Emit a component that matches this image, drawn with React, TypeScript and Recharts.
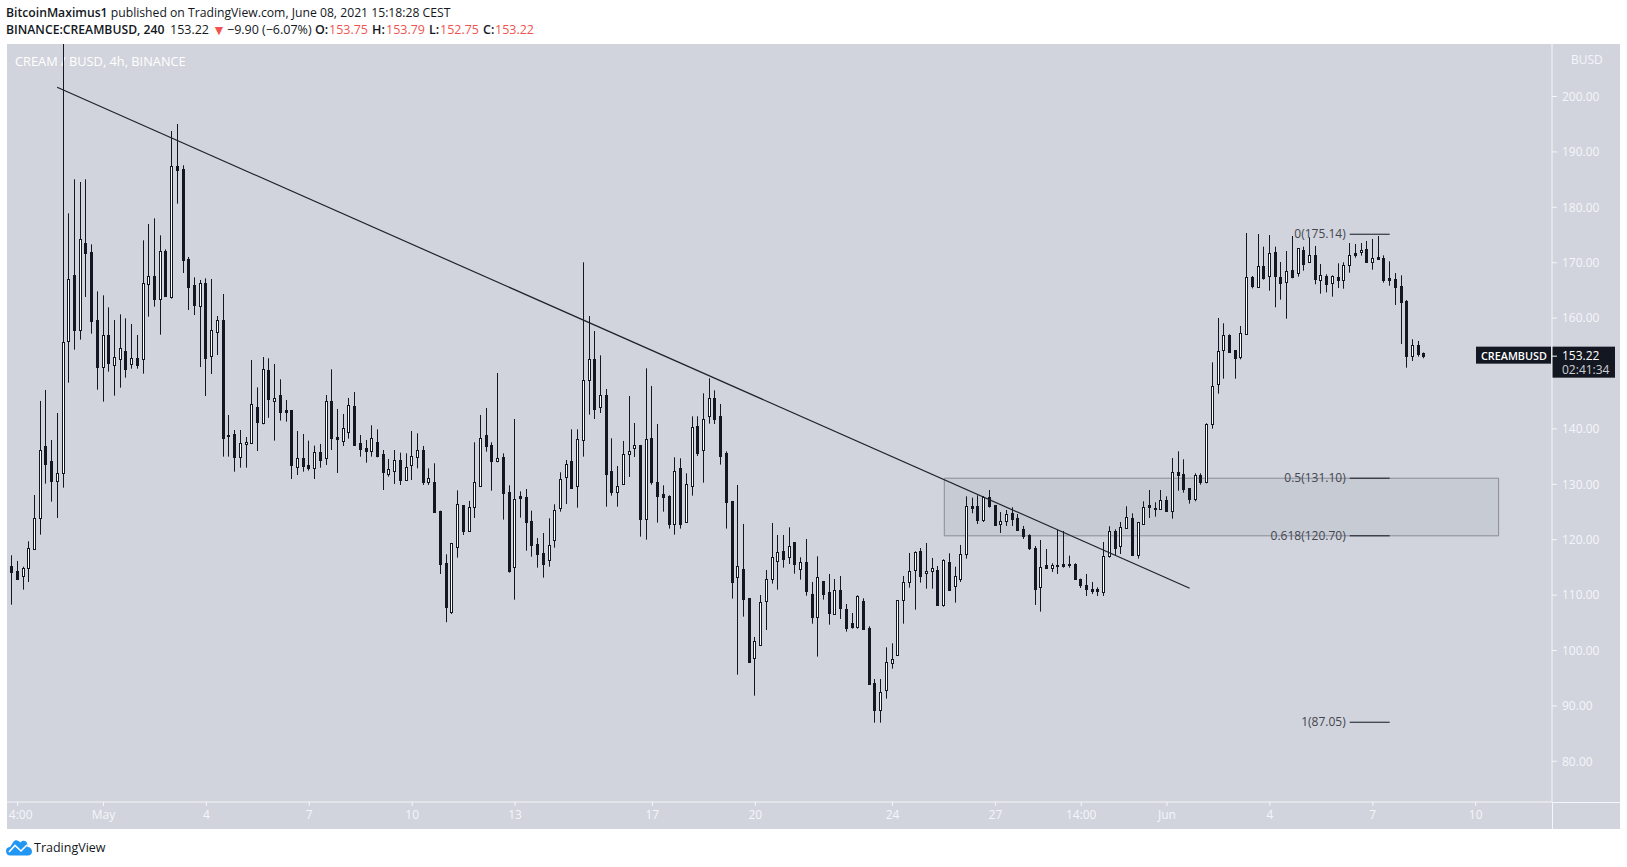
import { Bar, ComposedChart, ReferenceArea, ReferenceLine, XAxis, YAxis } from "recharts";

// candles, 4h, first one is cut off by the left edge of the pane
const OPENS = [
  115.7,
  115.25, 114.29, 113.51, 114.83, 118.38, 123.98, 136.92, 134.15, 130.66, 131.98,
  155.81, 167.78, 157.91, 173.56, 171.93, 159.66, 151.23, 156.95, 151.6, 152.68,
  154.0, 151.66, 152.8, 152.56, 166.22, 167.6, 163.51, 172.11, 163.87, 187.4,
  186.85, 170.67, 165.98, 162.25, 166.34, 153.22, 157.55, 159.66, 138.9, 139.02,
  134.99, 137.22, 137.52, 143.9, 141.13, 150.63, 145.1, 146.12, 143.35, 143.41,
  133.19, 134.75, 133.49, 133.0, 135.83, 134.81, 144.98, 138.48, 137.88, 139.5,
  144.14, 137.4, 136.49, 136.07, 137.58, 135.41, 131.92, 132.46, 134.33, 130.84,
  133.55, 134.99, 136.13, 130.48, 130.42, 125.18, 115.74, 107.01, 118.74, 126.21,
  121.63, 125.85, 129.63, 138.9, 137.1, 134.27, 134.87, 128.61, 115.01, 127.83,
  127.65, 123.38, 119.23, 117.6, 116.28, 119.89, 125.66, 131.26, 134.15, 129.63,
  137.94, 148.77, 152.56, 143.9, 146.06, 132.34, 128.55, 130.0, 135.41, 136.49,
  137.04, 123.8, 138.3, 130.36, 128.19, 127.83, 122.9, 132.88, 123.14, 129.75,
  140.46, 136.13, 142.27, 145.52, 142.27, 135.59, 126.93, 113.21, 114.65, 109.42,
  98.59, 101.06, 108.88, 112.85, 116.1, 117.9, 116.82, 119.53, 114.77, 115.92,
  110.14, 106.11, 112.55, 110.5, 106.65, 110.86, 107.43, 104.9, 104.3, 108.93,
  104.06, 94.07, 89.32, 92.93, 97.81, 99.25, 109.06, 112.31, 114.47, 117.9,
  113.93, 114.29, 114.53, 108.22, 115.98, 111.71, 112.97, 117.48, 126.09, 126.03,
  123.56, 127.65, 126.27, 122.9, 123.44, 124.82, 123.92, 121.87, 120.85, 118.44,
  111.4, 115.38, 114.95, 115.44, 115.56, 115.56, 115.62, 112.85, 111.77, 111.04,
  111.1, 110.62, 117.12, 121.51, 118.8, 122.12, 123.92, 117.24, 122.84, 126.21,
  125.79, 125.6, 127.17, 125.12, 132.16, 131.8, 129.27, 127.29, 131.62, 130.48,
  140.95, 148.05, 154.18, 156.95, 154.24, 152.92, 157.07, 167.36, 165.68, 169.41,
  167.54, 171.87, 167.36, 166.46, 168.62, 168.08, 172.29, 170.07, 171.33, 166.82,
  167.54, 166.28, 167.48, 166.82, 169.53, 171.69, 171.87, 172.41, 170.19, 171.09,
  170.85, 167.18, 167.0, 165.74, 163.15, 153.22, 155.09, 153.75,
];
const HIGHS = [
  120.7,
  117.18, 116.16, 115.13, 119.71, 128.07, 145.04, 147.03, 137.99, 142.87, 215,
  178.91, 185.05, 184.57, 185.05, 173.32, 164.83, 164.11, 161.94, 159.66, 160.68,
  159.96, 158.94, 156.95, 174.04, 176.99, 178.01, 174.94, 172.41, 193.77, 195.04,
  187.58, 171.03, 167.36, 166.88, 167.18, 167.06, 160.38, 164.35, 142.51, 139.8,
  139.8, 138.54, 152.44, 147.5, 152.98, 152.74, 151.72, 148.95, 145.22, 143.41,
  139.62, 139.08, 137.88, 136.98, 137.28, 146.12, 150.75, 143.6, 142.69, 145.58,
  146.66, 138.9, 137.99, 140.65, 139.92, 136.19, 134.57, 136.19, 135.71, 135.59,
  139.62, 139.2, 136.92, 132.88, 133.79, 125.24, 117.36, 119.41, 128.91, 126.21,
  127.0, 137.58, 142.51, 143.77, 137.58, 150.09, 135.59, 129.82, 141.79, 128.73,
  129.15, 125.24, 120.31, 121.21, 123.86, 126.39, 132.16, 134.39, 139.92, 139.92,
  170.07, 160.38, 157.67, 153.28, 147.2, 138.3, 133.3, 137.82, 145.94, 141.07,
  137.1, 150.93, 147.75, 140.89, 129.81, 128.01, 134.87, 134.69, 131.98, 142.27,
  142.27, 146.42, 149.13, 146.96, 144.5, 135.95, 126.99, 129.88, 122.84, 109.48,
  102.44, 110.02, 114.53, 123.02, 120.85, 120.85, 122.23, 119.53, 116.82, 120.13,
  112.37, 117.0, 112.55, 113.81, 112.91, 113.45, 108.39, 106.77, 109.96, 109.42,
  104.36, 94.85, 94.85, 100.57, 101.29, 109.06, 113.45, 117.6, 117.9, 118.5,
  119.41, 116.7, 115.25, 116.46, 117.54, 115.13, 119.05, 127.83, 127.59, 128.01,
  127.89, 128.97, 126.27, 125.0, 125.36, 125.85, 124.64, 122.48, 120.97, 118.86,
  119.95, 118.32, 115.74, 121.75, 121.57, 117.12, 115.74, 112.97, 113.81, 112.37,
  111.4, 119.59, 122.42, 121.87, 123.2, 126.03, 124.76, 123.2, 126.93, 128.97,
  126.75, 128.97, 127.83, 134.75, 135.95, 134.51, 129.27, 131.98, 131.98, 141.01,
  152.02, 160.02, 159.06, 157.07, 154.24, 158.58, 175.36, 167.6, 175.18, 172.9,
  175.0, 172.9, 170.13, 172.11, 174.82, 172.6, 172.9, 174.58, 173.02, 169.77,
  167.9, 167.72, 169.89, 170.07, 173.56, 173.38, 173.56, 173.92, 174.28, 174.82,
  171.33, 170.25, 168.14, 167.72, 163.27, 156.17, 155.87, 153.79,
];
const LOWS = [
  115.7,
  108.27, 112.97, 110.98, 112.37, 118.2, 120.91, 130.12, 126.87, 123.92, 129.39,
  148.35, 154.3, 156.11, 163.81, 157.19, 147.08, 144.92, 150.33, 146.0, 147.44,
  149.25, 150.87, 150.87, 149.97, 160.26, 162.07, 157.01, 163.87, 163.51, 180.66,
  168.14, 161.46, 160.56, 151.17, 145.94, 149.91, 153.34, 134.99, 134.99, 132.28,
  133.0, 133.0, 137.28, 136.01, 140.83, 142.0, 137.88, 141.5, 141.31, 130.96,
  131.68, 132.28, 132.46, 130.96, 133.0, 133.49, 136.19, 132.04, 136.92, 138.24,
  136.92, 134.99, 133.91, 134.99, 134.87, 128.97, 131.38, 130.06, 129.88, 130.78,
  130.78, 132.88, 129.88, 129.88, 124.88, 113.81, 105.1, 106.59, 116.76, 120.85,
  121.45, 123.92, 129.57, 135.89, 128.85, 133.97, 123.62, 114.05, 109.18, 123.98,
  118.02, 116.94, 114.95, 113.15, 115.13, 118.56, 125.06, 126.45, 129.39, 125.78,
  134.99, 142.57, 141.79, 142.87, 125.96, 127.95, 125.96, 129.87, 131.32, 134.93,
  120.55, 120.01, 129.94, 123.08, 125.06, 122.0, 120.91, 122.0, 123.08, 127.95,
  135.11, 130.3, 140.95, 140.89, 133.55, 122.0, 109.36, 95.64, 106.11, 97.98,
  91.85, 101.06, 103.7, 112.07, 110.98, 114.95, 115.61, 113.87, 112.79, 109.9,
  104.84, 98.89, 109.18, 104.66, 106.47, 105.69, 103.4, 103.94, 103.94, 103.94,
  94.01, 86.97, 86.97, 91.31, 96.72, 99.25, 104.84, 111.34, 107.37, 112.25,
  111.16, 111.16, 108.09, 107.91, 110.92, 108.64, 112.37, 116.58, 124.76, 122.84,
  123.2, 125.79, 122.48, 121.21, 122.48, 122.48, 121.57, 120.13, 118.14, 108.22,
  107.01, 114.95, 114.17, 113.81, 114.95, 114.95, 112.73, 111.28, 109.84, 110.2,
  109.84, 109.84, 116.76, 117.24, 117.42, 122.0, 117.06, 116.58, 122.72, 123.92,
  124.16, 125.6, 125.06, 123.8, 128.85, 128.49, 126.51, 126.93, 129.94, 130.18,
  140.04, 146.36, 149.07, 153.76, 149.07, 152.56, 157.07, 165.37, 165.56, 166.94,
  164.95, 161.95, 163.33, 159.9, 167.18, 167.48, 168.56, 170.07, 166.1, 164.41,
  164.65, 163.87, 165.43, 165.31, 168.2, 170.91, 171.27, 169.95, 168.74, 170.61,
  166.4, 165.86, 162.37, 155.33, 151.05, 152.26, 153.04, 152.75,
];
const CLOSES = [
  120.7,
  114.23, 112.97, 114.83, 118.44, 123.86, 136.13, 133.73, 130.6, 131.98, 155.63,
  167.0, 157.91, 174.22, 171.81, 159.54, 151.23, 156.89, 151.96, 152.92, 154.54,
  150.87, 152.74, 151.54, 166.28, 167.54, 163.51, 172.05, 164.05, 187.4, 186.73,
  170.49, 165.61, 162.37, 166.28, 152.86, 157.79, 159.6, 138.42, 138.8, 134.99,
  137.4, 137.58, 144.44, 141.31, 150.75, 145.46, 145.52, 143.11, 143.11, 133.49,
  134.69, 133.37, 133.0, 135.77, 134.45, 144.98, 138.42, 138.24, 140.1, 144.26,
  137.1, 136.43, 136.07, 138.3, 135.11, 132.22, 132.7, 134.33, 130.78, 133.06,
  135.05, 136.13, 130.42, 131.08, 125.06, 115.68, 107.8, 119.35, 126.39, 121.63,
  125.85, 130.36, 138.3, 136.98, 134.27, 134.69, 128.49, 114.35, 127.29, 127.59,
  123.26, 119.05, 117.42, 115.68, 118.98, 125.3, 130.9, 133.61, 129.39, 138.12,
  148.77, 152.56, 143.65, 146.06, 131.92, 128.67, 129.63, 135.41, 135.95, 137.04,
  123.8, 138.12, 130.48, 127.95, 127.77, 122.9, 132.34, 122.9, 129.99, 140.28,
  135.71, 141.73, 145.52, 141.73, 135.17, 126.87, 112.43, 115.31, 109.36, 97.98,
  101.66, 108.69, 112.85, 116.94, 117.84, 116.58, 118.8, 115.67, 115.92, 110.8,
  106.11, 113.21, 110.26, 106.83, 110.86, 107.67, 104.12, 104.3, 109.78, 103.94,
  94.01, 89.32, 92.45, 97.87, 98.53, 109.06, 112.31, 114.41, 117.84, 113.51,
  114.41, 114.83, 108.21, 116.34, 110.92, 113.39, 117.36, 126.03, 125.73, 123.56,
  127.71, 126.09, 122.6, 123.32, 124.58, 123.74, 121.75, 120.73, 118.44, 111.1,
  115.01, 114.95, 115.38, 115.38, 115.26, 115.5, 112.91, 111.83, 111.1, 110.74,
  110.74, 117.0, 121.51, 118.56, 122.24, 124.04, 117.24, 123.14, 125.85, 125.85,
  125.73, 127.11, 125.18, 132.16, 131.74, 129.15, 127.35, 131.74, 130.48, 140.89,
  147.69, 154.0, 156.89, 153.82, 152.86, 157.25, 167.36, 165.8, 169.35, 167.3,
  171.69, 167.66, 166.4, 168.44, 167.48, 172.6, 169.83, 171.33, 167.0, 167.78,
  166.1, 167.54, 166.88, 169.53, 171.45, 171.45, 172.35, 170.19, 170.91, 170.73,
  166.88, 166.94, 165.68, 162.97, 153.22, 155.09, 153.58, 153.22,
];

const TIME_TICKS = [2, 17, 35, 53, 71, 89, 113, 131, 155, 173, 188, 203, 221, 239, 257];
const TIME_LABELS = ["4:00", "May", "4", "7", "10", "13", "17", "20", "24", "27", "14:00", "Jun", "4", "7", "10"];
// 150 sits behind the last price tag in the original
const PRICE_TICKS = [80, 90, 100, 110, 120, 130, 140, 160, 170, 180, 190, 200];
const X_DOMAIN = [0.136, 270.34];
const Y_DOMAIN = [72.65, 209.48];

const TREND_LINE = [
  { x: 8.9, y: 201.66 },
  { x: 206.97, y: 111.23 },
];
const FIB_LEVELS = [
  { level: "0", price: 175.14 },
  { level: "0.5", price: 131.1 },
  { level: "0.618", price: 120.7 },
  { level: "1", price: 87.05 },
];
const FIB_X = [234.96, 241.96];
const ZONE_X = [164.06, 261];
const ZONE_Y = [120.7, 131.1];
const LAST_PRICE = 153.22;
const COUNTDOWN = "02:41:34";

const data = OPENS.map((open, i) => ({
  index: i,
  open,
  high: HIGHS[i],
  low: LOWS[i],
  close: CLOSES[i],
}));

const INK = "#131722";
const PANE = "#d1d4dc";
const AXIS = "#f4f6fb";
const FONT = "'Open Sans', 'Liberation Sans', sans-serif";

function Candle(props: any) {
  const { x, y, width, height, payload } = props;
  const center = Math.floor(x + width / 2);
  const top = Math.min(y, y + height);
  const pxPerUnit = Math.abs(height) / (payload.high - payload.low);
  const toY = (p: number) => top + (payload.high - p) * pxPerUnit;
  const bodyTop = Math.round(toY(Math.max(payload.open, payload.close))) + 0.5;
  const bodyBottom = Math.round(toY(Math.min(payload.open, payload.close))) + 0.5;
  const up = payload.close >= payload.open;
  return (
    <g>
      <line x1={center + 0.5} x2={center + 0.5} y1={top} y2={top + Math.abs(height)} stroke={INK} />
      <rect
        x={center - 0.5}
        y={bodyTop}
        width={2}
        height={Math.max(bodyBottom - bodyTop, 1)}
        fill={up ? "#ffffff" : INK}
        stroke={INK}
      />
    </g>
  );
}

function TimeTick(props: any) {
  const { x, y, payload, index } = props;
  // the first label is pushed right so it stays inside the pane
  return (
    <text x={x + (index === 0 ? 3 : 0)} y={y + 9} textAnchor="middle" fill={AXIS} fontSize={12} fontFamily={FONT}>
      {TIME_LABELS[TIME_TICKS.indexOf(payload.value)]}
    </text>
  );
}

function PriceTag(props: any) {
  const y = props.viewBox.y;
  return (
    <g fontFamily={FONT} fill="#ffffff">
      <rect x={1476} y={y - 9} width={75} height={17} fill={INK} />
      <rect x={1552} y={y - 9} width={63} height={31} fill={INK} />
      <line x1={1552} x2={1557} y1={y + 0.5} y2={y + 0.5} stroke={AXIS} />
      <text x={1481} y={y + 4} fontSize={10.8} fontWeight={600}>CREAMBUSD</text>
      <text x={1562} y={y + 4} fontSize={12}>{LAST_PRICE.toFixed(2)}</text>
      <text x={1562} y={y + 18} fontSize={12} fillOpacity={0.8}>{COUNTDOWN}</text>
    </g>
  );
}

function TvLogo() {
  return (
    <svg width={28} height={17} viewBox="0 0 28 17" style={{ position: "absolute", left: 5, top: 839 }}>
      <path
        d="M1 12 C1 9 3 8 5 8 L9 2 C10 1 12 1 13.5 2 L15.5 3.5 C17 1 21 1 22 4 C22.5 6 22 7 22.5 8 C25 8 27 10 27 12.5 C27 15 25 16.5 23 16.5 L5 16.5 C3 16.5 1 15 1 12 Z"
        fill="#2196f3"
      />
      <path d="M4 13 L10 6.5 L16 12 L22 6" fill="none" stroke="#ffffff" strokeWidth={1.6} />
    </svg>
  );
}

export default function App() {
  const head: React.CSSProperties = {
    position: "absolute",
    fontFamily: FONT,
    fontSize: 12.5,
    whiteSpace: "pre",
    color: INK,
  };
  const line2 = { ...head, top: 21 };
  const red = { ...line2, color: "#ef5350" };
  return (
    <div style={{ position: "absolute", left: 0, top: 0, width: 1627, height: 867, background: "#ffffff", overflow: "hidden" }}>
      <div style={{ ...head, left: 6, top: 4, fontSize: 12.2 }}>
        <b style={{ fontWeight: 600 }}>BitcoinMaximus1</b> published on TradingView.com, June 08, 2021 15:18:28 CEST
      </div>
      <div style={{ ...line2, left: 6, fontWeight: 600, fontSize: 12.2 }}>BINANCE:CREAMBUSD, 240</div>
      <div style={{ ...line2, left: 170 }}>153.22</div>
      <div style={{ ...red, left: 212, fontSize: 14, top: 20 }}>▼</div>
      <div style={{ ...line2, left: 227 }}>−9.90</div>
      <div style={{ ...line2, left: 262 }}>(−6.07%)</div>
      <div style={{ ...line2, left: 315, fontWeight: 600 }}>O:</div>
      <div style={{ ...red, left: 329 }}>153.75</div>
      <div style={{ ...line2, left: 372, fontWeight: 600 }}>H:</div>
      <div style={{ ...red, left: 386 }}>153.79</div>
      <div style={{ ...line2, left: 429, fontWeight: 600 }}>L:</div>
      <div style={{ ...red, left: 440 }}>152.75</div>
      <div style={{ ...line2, left: 483, fontWeight: 600 }}>C:</div>
      <div style={{ ...red, left: 495 }}>153.22</div>

      <div style={{ position: "absolute", left: 7, top: 44, width: 1613, height: 785, background: PANE }} />
      <div style={{ position: "absolute", left: 15, top: 52, fontFamily: FONT, fontSize: 12.8, color: "#ffffff", whiteSpace: "pre" }}>
        CREAM / BUSD, 4h, BINANCE
      </div>

      <div style={{ position: "absolute", left: 0, top: 0 }}>
        <ComposedChart
          width={1627}
          height={867}
          data={data}
          margin={{ top: 44, right: 7, bottom: 38, left: 7 }}
        >
          <XAxis
            dataKey="index"
            type="number"
            domain={X_DOMAIN}
            allowDataOverflow
            ticks={TIME_TICKS}
            interval={0}
            height={27}
            tickSize={4}
            tickMargin={4}
            axisLine={{ stroke: AXIS }}
            tickLine={{ stroke: AXIS }}
            tick={<TimeTick />}
          />
          <YAxis
            orientation="right"
            type="number"
            domain={Y_DOMAIN}
            allowDataOverflow
            ticks={PRICE_TICKS}
            interval={0}
            width={68}
            tickSize={5}
            tickMargin={5}
            axisLine={{ stroke: AXIS }}
            tickLine={{ stroke: AXIS }}
            tick={{ fill: AXIS, fontSize: 12, fontFamily: FONT }}
            tickFormatter={(v: number) => v.toFixed(2)}
          />
          <ReferenceArea
            x1={ZONE_X[0]}
            x2={ZONE_X[1]}
            y1={ZONE_Y[0]}
            y2={ZONE_Y[1]}
            fill="#787b86"
            fillOpacity={0.1}
            stroke="#8a8d97"
            strokeWidth={1}
          />
          <Bar
            dataKey={(d: any) => [d.low, d.high]}
            barSize={3}
            shape={Candle}
            isAnimationActive={false}
          />
          <ReferenceLine
            segment={TREND_LINE}
            stroke="#1e222d"
            strokeWidth={1.2}
            ifOverflow="visible"
          />
          {FIB_LEVELS.map((f) => (
            <ReferenceLine
              key={f.level}
              segment={[
                { x: FIB_X[0], y: f.price },
                { x: FIB_X[1], y: f.price },
              ]}
              stroke={INK}
              strokeWidth={1}
              ifOverflow="visible"
              label={{
                value: `${f.level}(${f.price.toFixed(2)})`,
                position: "left",
                offset: 4,
                fill: "#434651",
                fontSize: 12,
                fontFamily: FONT,
              }}
            />
          ))}
          <ReferenceLine y={LAST_PRICE} stroke="none" label={<PriceTag />} />
        </ComposedChart>
      </div>

      <div style={{ position: "absolute", left: 1552, top: 802, width: 1, height: 27, background: AXIS }} />
      <div style={{ position: "absolute", left: 1552, top: 802, width: 68, height: 1, background: AXIS }} />
      <div style={{ position: "absolute", left: 1571, top: 51, fontFamily: FONT, fontSize: 12, color: AXIS }}>BUSD</div>

      <TvLogo />
      <div style={{ position: "absolute", left: 34, top: 839, fontFamily: FONT, fontSize: 12.5, color: INK }}>TradingView</div>
    </div>
  );
}
